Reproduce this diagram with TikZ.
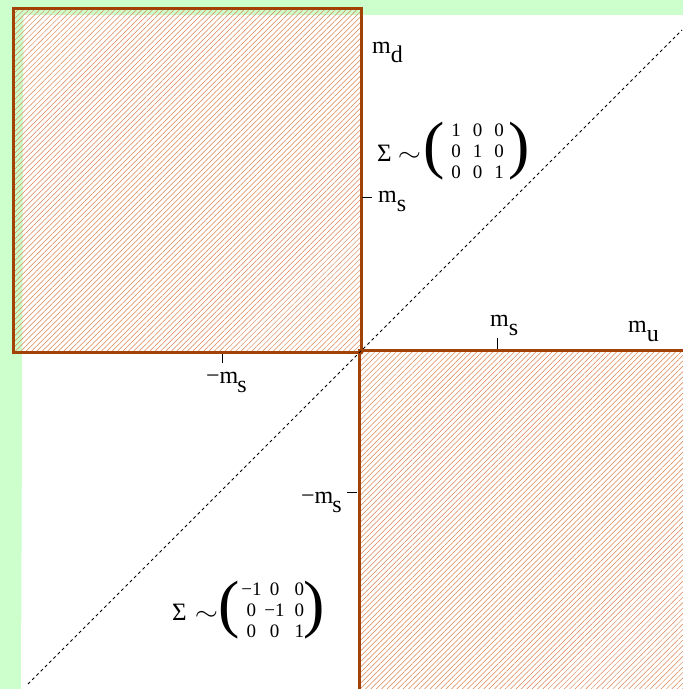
\documentclass[tikz,border=0pt]{standalone}
\usepackage{fontspec}
\setmainfont{Liberation Serif}
\usetikzlibrary{patterns.meta}
\definecolor{bggreen}{RGB}{204,255,204}
\definecolor{edgebrown}{RGB}{163,66,6}
\definecolor{hatchorange}{RGB}{218,130,80}
\newcommand{\lowsub}[1]{\lower9.5pt\hbox{#1}}
\newcommand{\bigparen}[1]{\raisebox{-5.3pt}{\fontsize{64}{64}\selectfont #1}}
\newcommand{\simsym}{\scalebox{1.2}[1]{$\sim$}}
\tikzset{
 region/.style={pattern={Lines[angle=45,distance=3.8pt,line width=0.5pt]},pattern color=hatchorange},
 edge/.style={draw=edgebrown,line width=3pt},
 tickmark/.style={draw=black,line width=0.8pt},
 lbl/.style={inner sep=0pt,anchor=base west,font=\fontsize{24}{28}\selectfont},
 sigma/.style={inner sep=0pt,anchor=base west,font=\fontsize{25}{30}\selectfont},
 diag/.style={draw=black,line width=0.8pt,dash pattern=on 3pt off 3pt}
}
\begin{document}
\begin{tikzpicture}[x=1pt,y=-1pt]
\fill[bggreen] (0,0) rectangle (683,689);
\useasboundingbox (0,0) rectangle (683,689);
\fill[white] (23.5,15) -- (683,15) -- (683,689) -- (21,689) -- cycle;
% hatched regions
\fill[region] (13.5,8) rectangle (361.5,352.5);
\draw[edge] (13.5,8) rectangle (361.5,352.5);
\fill[region] (359,350.5) rectangle (690,695);
\draw[edge] (359,695) -- (359,350.5) -- (690,350.5);
% diagonal
\coordinate (d1) at (28,684);
\coordinate (d2) at (682,30);
\draw[diag] (d1) -- (d2);
% ticks
\coordinate (t1a) at (362,197); \coordinate (t1b) at (372,197);
\coordinate (t2a) at (222,354); \coordinate (t2b) at (222,363);
\coordinate (t3a) at (497,338); \coordinate (t3b) at (497,349);
\coordinate (t4a) at (347,492); \coordinate (t4b) at (357,492);
\draw[tickmark] (t1a) -- (t1b);
\draw[tickmark] (t2a) -- (t2b);
\draw[tickmark] (t3a) -- (t3b);
\draw[tickmark] (t4a) -- (t4b);
% labels
\node[lbl] (md) at (372,53) {m\lowsub{d}};
\node[lbl] (msa) at (378,202) {m\lowsub{s}};
\node[lbl] (msb) at (206,383) {−m\kern-1pt\lowsub{s}};
\node[lbl] (msc) at (490,326) {m\lowsub{s}};
\node[lbl] (mu) at (628,332) {m\lowsub{u}};
\node[lbl] (msd) at (301,503) {−m\kern-1pt\lowsub{s}};
% matrices
\node[sigma] (sig1) at (377,161) {Σ\hspace{6pt}\simsym\hspace{3pt}\bigparen{(}\hspace{6pt}\raisebox{-17pt}{\fontsize{19}{21}\selectfont\begin{tabular}[b]{@{}c@{\hspace{12pt}}c@{\hspace{12pt}}c@{}}1&0&0\\0&1&0\\0&0&1\end{tabular}}\hspace{5pt}\bigparen{)}};
\node[sigma] (sig2) at (172,620) {Σ\hspace{8pt}\simsym\hspace{1pt}\bigparen{(}\hspace{1pt}\raisebox{-17pt}{\fontsize{19}{21}\selectfont\begin{tabular}[b]{@{}c@{\hspace{3pt}}c@{\hspace{10pt}}c@{}}−1&0&0\\0&−1&0\\0&0&1\end{tabular}}\hspace{-1pt}\bigparen{)}};
\end{tikzpicture}
\end{document}
